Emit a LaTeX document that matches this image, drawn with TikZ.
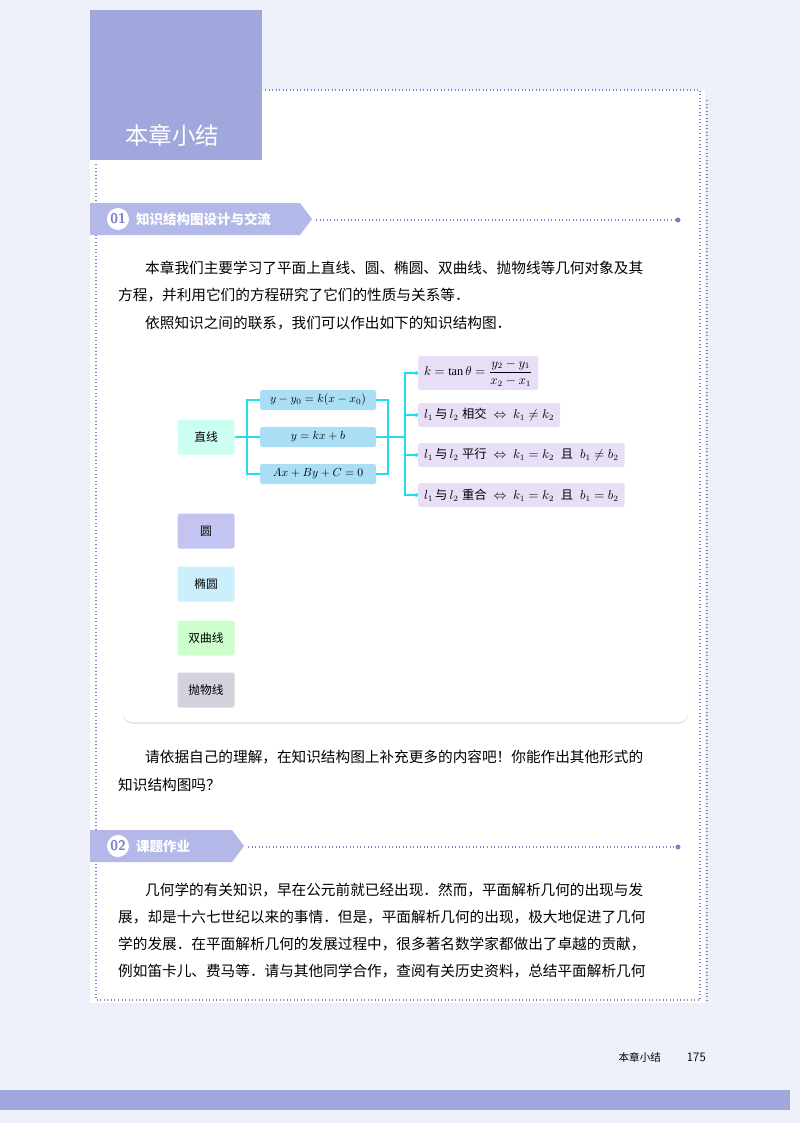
\documentclass[tikz,border=0pt]{standalone}
\usepackage{fontspec}
\setmainfont{Liberation Serif}
\newfontfamily\cjk{Noto Sans CJK SC}
\usetikzlibrary{shadows,arrows.meta}
\definecolor{pagebg}{HTML}{EDEFF9}
\definecolor{head}{HTML}{A0A7DC}
\definecolor{bar}{HTML}{B3B8E8}
\definecolor{dotc}{HTML}{7C82C8}
\definecolor{cy}{HTML}{22DDEE}
\definecolor{midb}{HTML}{A9DEF5}
\definecolor{rb}{HTML}{E9DEF8}
\begin{document}
\begin{tikzpicture}[x=0.03cm,y=-0.03cm,
  txt/.style={anchor=west,inner sep=0,font=\cjk\fontsize{12.5}{14}\selectfont},
  cat/.style={rounded corners=2pt,minimum width=57*0.03cm,minimum height=35*0.03cm,font=\cjk\fontsize{10}{12}\selectfont,inner sep=0},
  mid/.style={fill=midb,rounded corners=2pt,minimum width=116*0.03cm,minimum height=20*0.03cm,inner sep=0,font=\fontsize{10}{12}\selectfont},
  rbox/.style={fill=rb,rounded corners=2pt,anchor=west,inner xsep=5pt,inner ysep=3pt,minimum height=24*0.03cm,font=\fontsize{10.5}{12}\selectfont},
  con/.style={cy,line width=1.3pt},
  dot/.style={dotc,line width=1pt,dash pattern=on 0.8pt off 2.2pt}]
\useasboundingbox (0,0) rectangle (800,1123);
\fill[pagebg] (0,0) rectangle (800,1123);
\fill[white] (90,90) rectangle (705,1003);
\fill[head] (90,10) rectangle (262,160);
\node[font=\cjk\fontsize{20}{22}\selectfont,text=white] (title) at (172,135) {本章小结};
\draw[dot] (265,90) -- (700,90) -- (700,1000) -- (96,1000) -- (96,162);
\draw[dot] (707,100) -- (707,1003);
% section 01
\fill[bar] (90,203) -- (300,203) -- (312,219) -- (300,235) -- (90,235) -- cycle;
\fill[white] (118,219) circle (11);
\node[font=\sffamily\bfseries\fontsize{12}{14}\selectfont,text=dotc] (n01) at (118,219) {01};
\node[txt,text=white,font=\cjk\bfseries\fontsize{11.5}{12}\selectfont] (s01) at (136,219) {知识结构图设计与交流};
\draw[dot] (316,220) -- (676,220); \fill[dotc] (678,220) circle (2.5);
\node[txt] (p1) at (145,268) {本章我们主要学习了平面上直线、圆、椭圆、双曲线、抛物线等几何对象及其};
\node[txt] (p2) at (118,295) {方程，并利用它们的方程研究了它们的性质与关系等．};
\node[txt] (p3) at (145,323) {依照知识之间的联系，我们可以作出如下的知识结构图．};
% card
\fill[white,rounded corners=8pt,drop shadow={opacity=0.2,shadow xshift=0pt,shadow yshift=-1.5pt}] (123,345) rectangle (688,722);
\node[cat,fill=green!25!cyan!20] (zx) at (206,437) {直线};
\node[cat,fill=blue!20!white!90!gray] (yuan) at (206,531) {圆};
\node[cat,fill=cyan!20] (ty) at (206,584) {椭圆};
\node[cat,fill=green!20] (sq) at (206,638) {双曲线};
\node[cat,fill=blue!15!gray!30] (pw) at (206,690) {抛物线};
\node[mid] (m1) at (318,400) {$y-y_0=k(x-x_0)$};
\node[mid] (m2) at (318,437) {$y=kx+b$};
\node[mid] (m3) at (318,474) {$Ax+By+C=0$};
\node[rbox] (r1) at (418,373) {$k=\tan\theta=\displaystyle\frac{y_2-y_1}{x_2-x_1}$\quad};
\node[rbox] (r2) at (418,415) {$l_1$\,{\cjk 与}\,$l_2$\;{\cjk 相交}\;\;$\Leftrightarrow$\;\;$k_1\neq k_2$};
\node[rbox] (r3) at (418,455) {$l_1$\,{\cjk 与}\,$l_2$\;{\cjk 平行}\;\;$\Leftrightarrow$\;\;$k_1=k_2$\;\;{\cjk 且}\;\;$b_1\neq b_2$};
\node[rbox] (r4) at (418,495) {$l_1$\,{\cjk 与}\,$l_2$\;{\cjk 重合}\;\;$\Leftrightarrow$\;\;$k_1=k_2$\;\;{\cjk 且}\;\;$b_1=b_2$};
\coordinate (a) at (247,437); \coordinate (b) at (388,437); \coordinate (c) at (405,437);
\draw[con] (zx.east) -- (a);
\draw[con] (m1.west) -| (a) |- (m3.west); \draw[con] (a) -- (m2.west);
\draw[con] (m1.east) -| (b) |- (m3.east); \draw[con] (m2.east) -- (c);
\foreach \r in {r1,r2,r3,r4}{\draw[con,-{Circle[length=3pt]}] (c) |- (\r.west);}
\node[txt] (p4) at (145,757) {请依据自己的理解，在知识结构图上补充更多的内容吧！你能作出其他形式的};
\node[txt] (p5) at (118,785) {知识结构图吗？};
% section 02
\fill[bar] (90,830) -- (232,830) -- (244,846) -- (232,862) -- (90,862) -- cycle;
\fill[white] (118,846) circle (11);
\node[font=\sffamily\bfseries\fontsize{12}{14}\selectfont,text=dotc] (n02) at (118,846) {02};
\node[txt,text=white,font=\cjk\bfseries\fontsize{11.5}{12}\selectfont] (s02) at (136,846) {课题作业};
\draw[dot] (248,847) -- (676,847); \fill[dotc] (678,847) circle (2.5);
\node[txt] (q1) at (145,890) {几何学的有关知识，早在公元前就已经出现．然而，平面解析几何的出现与发};
\node[txt] (q2) at (118,917) {展，却是十六七世纪以来的事情．但是，平面解析几何的出现，极大地促进了几何};
\node[txt] (q3) at (118,944) {学的发展．在平面解析几何的发展过程中，很多著名数学家都做出了卓越的贡献，};
\node[txt] (q4) at (118,971) {例如笛卡儿、费马等．请与其他同学合作，查阅有关历史资料，总结平面解析几何};
\node[anchor=east,font=\cjk\fontsize{9}{11}\selectfont] (ft) at (665,1057) {本章小结};
\node[anchor=east,font=\sffamily\fontsize{11}{13}\selectfont] (pg) at (710,1057) {175};
\fill[head] (0,1090) rectangle (790,1110);
\end{tikzpicture}
\end{document}
